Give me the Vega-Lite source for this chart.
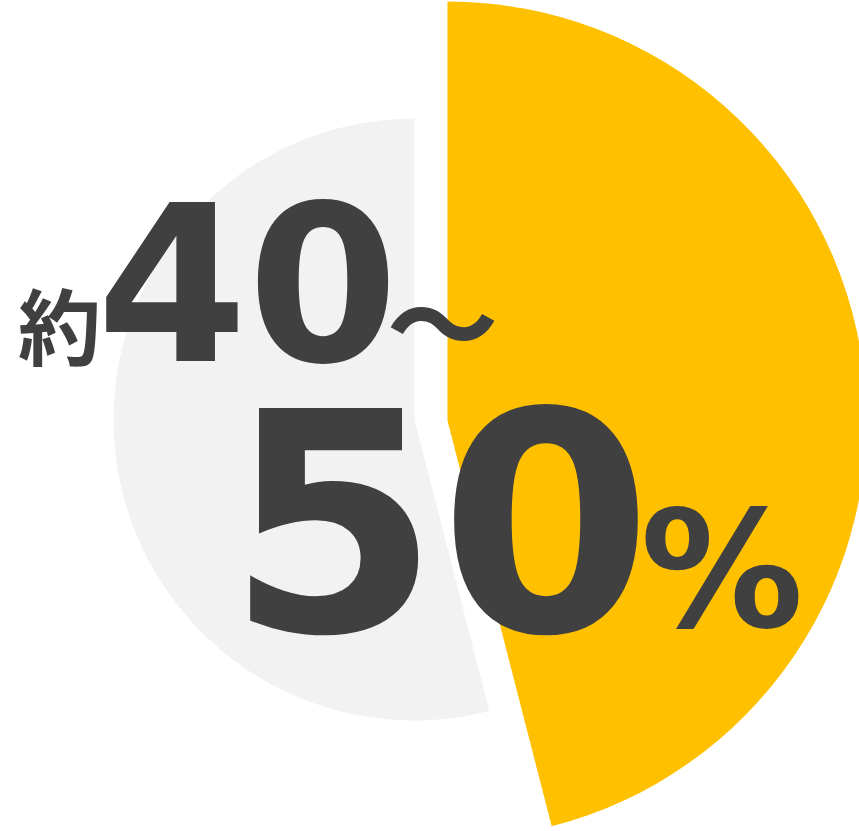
{
  "$schema": "https://vega.github.io/schema/vega-lite/v6.json",
  "width": 859,
  "height": 831,
  "autosize": {"type": "fit", "contains": "padding"},
  "background": "white",
  "datasets": {
    "share": [
      {"category": "該当", "pct": 46},
      {"category": "その他", "pct": 54}
    ],
    "labels": [
      {"part": "prefix", "label": "約"},
      {"part": "low", "label": "40"},
      {"part": "tilde", "label": "～"},
      {"part": "high", "label": "50"},
      {"part": "unit", "label": "%"}
    ]
  },
  "layer": [
    {
      "data": {"name": "share"},
      "mark": {"type": "arc", "outerRadius": 301, "xOffset": -7, "yOffset": 13},
      "encoding": {
        "theta": {"field": "pct", "type": "quantitative", "stack": true},
        "order": {"field": "pct", "sort": "ascending"},
        "color": {
          "field": "category",
          "type": "nominal",
          "scale": {"domain": ["該当", "その他"], "range": ["#FFC000", "#F2F2F2"]},
          "legend": null
        },
        "opacity": {"condition": {"test": "datum.category == 'その他'", "value": 1}, "value": 0}
      }
    },
    {
      "data": {"name": "share"},
      "mark": {"type": "arc", "outerRadius": 419, "xOffset": 26, "yOffset": 14},
      "encoding": {
        "theta": {"field": "pct", "type": "quantitative", "stack": true},
        "order": {"field": "pct", "sort": "ascending"},
        "color": {"field": "category", "type": "nominal", "legend": null},
        "opacity": {"condition": {"test": "datum.category == '該当'", "value": 1}, "value": 0}
      }
    },
    {
      "data": {"name": "labels"},
      "transform": [{"filter": "datum.part == 'prefix'"}],
      "mark": {"type": "text", "font": "Noto Sans CJK JP", "fontWeight": "bold", "fontSize": 83, "align": "center", "baseline": "alphabetic", "dx": -362, "dy": -47.5, "color": "#404040"},
      "encoding": {"text": {"field": "label"}}
    },
    {
      "data": {"name": "labels"},
      "transform": [{"filter": "datum.part == 'low'"}],
      "mark": {"type": "text", "font": "DejaVu Sans", "fontWeight": "bold", "fontSize": 217, "align": "center", "baseline": "alphabetic", "dx": -174, "dy": -45.5, "color": "#404040"},
      "encoding": {"text": {"field": "label"}}
    },
    {
      "data": {"name": "labels"},
      "transform": [{"filter": "datum.part == 'tilde'"}],
      "mark": {"type": "text", "font": "Noto Sans CJK JP", "fontWeight": "bold", "fontSize": 112, "align": "center", "baseline": "alphabetic", "dx": 21, "dy": -40, "color": "#404040"},
      "encoding": {"text": {"field": "label"}}
    },
    {
      "data": {"name": "labels"},
      "transform": [{"filter": "datum.part == 'high'"}],
      "mark": {"type": "text", "font": "DejaVu Sans", "fontWeight": "bold", "fontSize": 306, "align": "center", "baseline": "alphabetic", "dx": 18, "dy": 224.5, "color": "#404040"},
      "encoding": {"text": {"field": "label"}}
    },
    {
      "data": {"name": "labels"},
      "transform": [{"filter": "datum.part == 'unit'"}],
      "mark": {"type": "text", "font": "DejaVu Sans", "fontWeight": "bold", "fontSize": 163, "align": "center", "baseline": "alphabetic", "dx": 300.5, "dy": 220.5, "color": "#404040"},
      "encoding": {"text": {"field": "label"}}
    }
  ],
  "config": {"view": {"stroke": null}}
}
